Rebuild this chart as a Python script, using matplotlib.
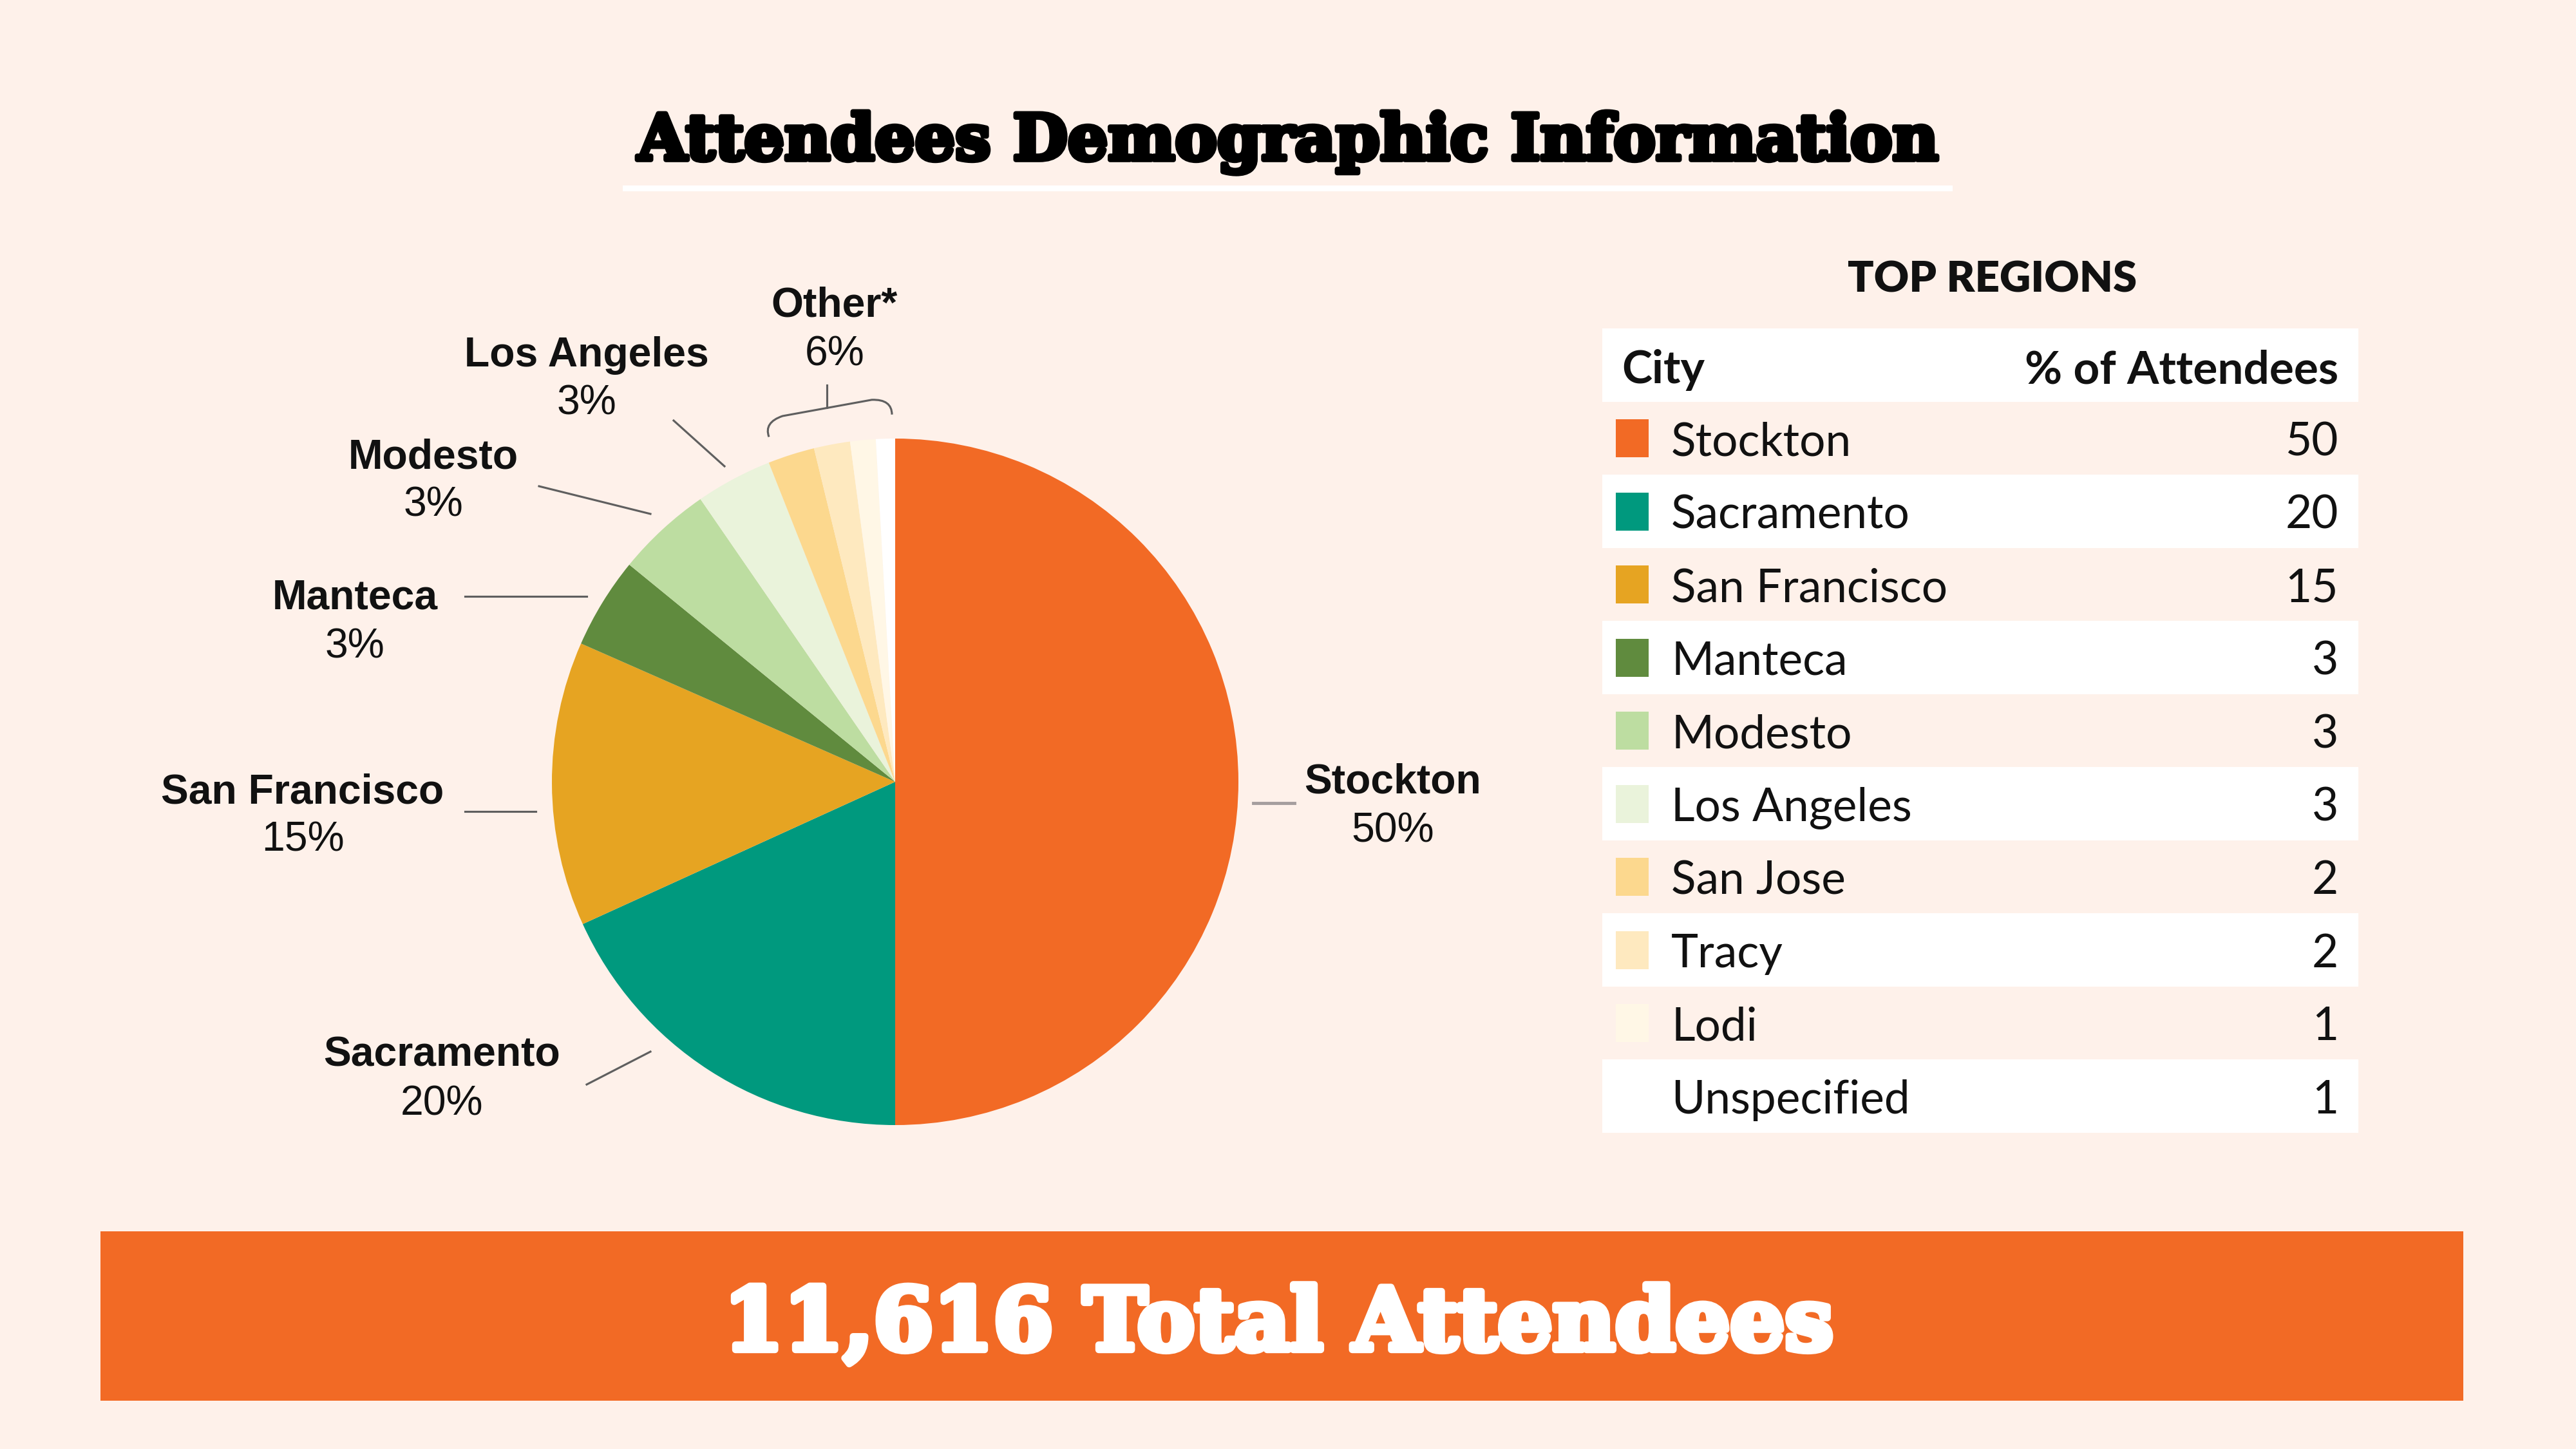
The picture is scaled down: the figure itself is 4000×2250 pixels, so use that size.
import matplotlib.pyplot as plt
from matplotlib.patches import Rectangle, PathPatch
from matplotlib.path import Path
import matplotlib.patheffects as pe
import numpy as np

cities = ["Stockton", "Sacramento", "San Francisco", "Manteca", "Modesto",
          "Los Angeles", "San Jose", "Tracy", "Lodi", "Unspecified"]
percent = [50, 20, 15, 3, 3, 3, 2, 2, 1, 1]
# wedge sizes as drawn in the pie (they differ from the rounded table values)
pie_share = [50, 18.2, 13.4, 4.3, 4.5, 3.6, 2.2, 1.7, 1.2, 0.9]
colors = ["#F26A25", "#00997E", "#E6A422", "#608B3E", "#BDDDA1",
          "#EAF3DB", "#FCD88E", "#FEE9BF", "#FFF7E6", "#FFFFFF"]
# small regions grouped under one label in the pie
other_group = ["San Jose", "Tracy", "Lodi", "Unspecified"]
other_label = "Other*"
total_attendees = 11616

title = "Attendees Demographic Information"
table_title = "TOP REGIONS"
table_header = ["City", "% of Attendees"]

BG = "#FEF1EA"
ORANGE = "#F26A25"
LINE = "#5F5F5F"
W, H = 4000, 2250

fig = plt.figure(figsize=(16, 9), dpi=250, facecolor=BG)

# pie, centre (1390, 1214) px, radius 533 px
cx, cy, r = 1390, 1214, 533
pax = fig.add_axes([(cx - r) / W, (H - cy - r) / H, 2 * r / W, 2 * r / H])
pax.set_facecolor("none")
wedges, _ = pax.pie(pie_share, colors=colors, startangle=90, counterclock=False,
                    radius=1, wedgeprops=dict(linewidth=0))
pax.set_xlim(-1, 1)
pax.set_ylim(-1, 1)
pax.axis("off")

# bracket over the "other" wedges
idx = [cities.index(c) for c in other_group]
a_left = max(wedges[i].theta2 for i in idx) - 1.5
a_right = min(wedges[i].theta1 for i in idx) + 0.5
def pol(rr, a):
    return (rr * np.cos(np.radians(a)), rr * np.sin(np.radians(a)))
verts = [pol(1.07, a_left), pol(1.115, a_left), pol(1.115, a_left - 3),
         pol(1.115, a_right + 3), pol(1.115, a_right), pol(1.07, a_right)]
codes = [Path.MOVETO, Path.CURVE3, Path.CURVE3, Path.LINETO, Path.CURVE3, Path.CURVE3]
pax.add_patch(PathPatch(Path(verts, codes), fill=False, edgecolor=LINE,
                        linewidth=0.9, clip_on=False))
mx = (verts[2][0] + verts[3][0]) / 2
my = (verts[2][1] + verts[3][1]) / 2
pax.plot([mx, mx], [my, my + 0.066], color=LINE, lw=0.9, clip_on=False)

# overlay in pixel coordinates for text and layout
ax = fig.add_axes([0, 0, 1, 1])
ax.set_facecolor("none")
ax.set_xlim(0, W)
ax.set_ylim(H, 0)
ax.axis("off")

ax.text(2000, 248, title, ha="center", va="baseline", fontsize=28.3,
        family="DejaVu Serif", weight="bold", color="black",
        path_effects=[pe.withStroke(linewidth=2.2, foreground="black")])
ax.add_patch(Rectangle((967, 288), 2065, 9, color="white", lw=0))

# pie labels: (x, baseline) and leader line
label_pos = {
    "Stockton": (2163, 1232, [(1946, 1247), (2010, 1247)]),
    "Sacramento": (686, 1656, [(911, 1684), (1010, 1633)]),
    "San Francisco": (470, 1247, [(722, 1260), (832, 1260)]),
    "Manteca": (551, 946, [(722, 926), (911, 926)]),
    "Modesto": (673, 727, [(837, 755), (1010, 798)]),
    "Los Angeles": (911, 569, [(1046, 653), (1125, 724)]),
}
for c, p in zip(cities, percent):
    if c not in label_pos:
        continue
    x, y, seg = label_pos[c]
    ax.text(x, y, c, ha="center", va="baseline", fontsize=18.5,
            family="Liberation Sans", weight="bold", color="#111111")
    ax.text(x, y + 75, f"{p}%", ha="center", va="baseline", fontsize=18.5,
            family="Liberation Sans", color="#111111")
    if c == "Stockton":
        ax.plot([seg[0][0], seg[1][0]], [seg[0][1], seg[1][1]], color="#A59E9E", lw=1.4)
    else:
        ax.plot([seg[0][0], seg[1][0]], [seg[0][1], seg[1][1]], color=LINE, lw=0.9)

other_pct = sum(percent[i] for i in idx)
ax.text(1296, 492, other_label, ha="center", va="baseline", fontsize=18.5,
        family="Liberation Sans", weight="bold", color="#111111")
ax.text(1296, 567, f"{other_pct}%", ha="center", va="baseline", fontsize=18.5,
        family="Liberation Sans", color="#111111")

# table
tx0, tx1 = 2488, 3662
row_h = 113.5
top = 510
ax.text(3094, 453, table_title, ha="center", va="baseline", fontsize=19.3,
        family="Lato", weight="heavy", color="#111111")
ax.add_patch(Rectangle((tx0, top), tx1 - tx0, row_h, color="white", lw=0))
ax.text(2518, top + 85, table_header[0], ha="left", va="baseline", fontsize=20.5,
        family="Lato", weight="bold", color="#111111")
ax.text(3631, top + 85, table_header[1], ha="right", va="baseline", fontsize=20.5,
        family="Lato", weight="bold", color="#111111")
for i, (c, p, col) in enumerate(zip(cities, percent, colors)):
    y0 = top + row_h * (i + 1)
    yc = y0 + row_h / 2
    if i % 2 == 1:
        ax.add_patch(Rectangle((tx0, y0), tx1 - tx0, row_h, color="white", lw=0))
    ax.add_patch(Rectangle((2509, yc - 29), 51, 59, color=col, lw=0))
    ax.text(2595, yc + 27, c, ha="left", va="baseline", fontsize=20.5,
            family="Lato", color="#111111")
    ax.text(3631, yc + 27, str(p), ha="right", va="baseline", fontsize=20.5,
            family="Lato", color="#111111")

# banner
ax.add_patch(Rectangle((156, 1912), 3669, 263, color=ORANGE, lw=0))
ax.text(1985, 2096, f"{total_attendees:,} Total Attendees", ha="center",
        va="baseline", fontsize=38.5, family="DejaVu Serif", weight="bold",
        color="white",
        path_effects=[pe.withStroke(linewidth=3, foreground="white")])

plt.savefig("out.png", dpi=250, facecolor=BG)
